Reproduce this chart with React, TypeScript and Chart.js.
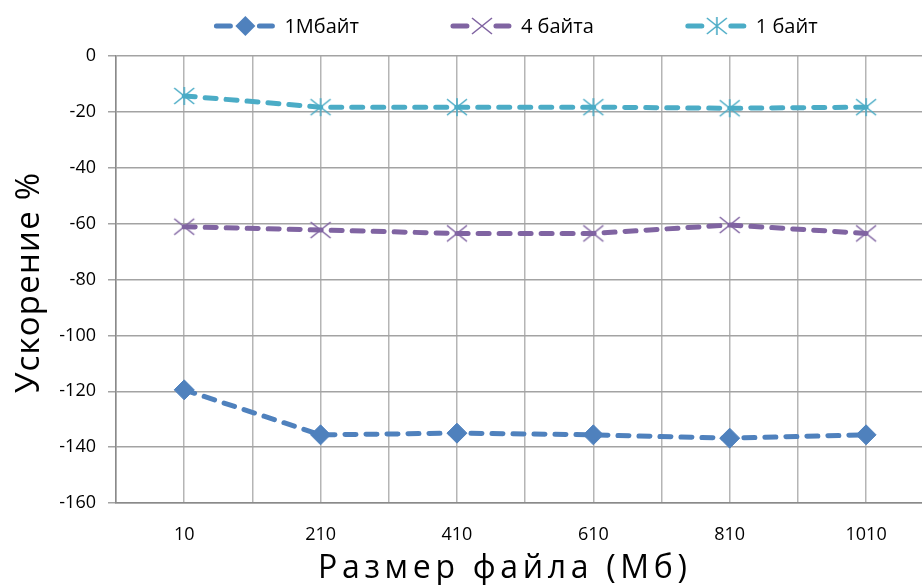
import React, { useEffect, useRef } from 'react';
import { Chart, registerables } from 'chart.js';

Chart.register(...registerables);

// ---- Data ----
const categories = [10, 210, 410, 610, 810, 1010];
const series1Mb = [-119.5, -135.6, -135.0, -135.6, -136.8, -135.6];
const series4b = [-61.1, -62.3, -63.5, -63.5, -60.5, -63.5];
const series1b = [-14.3, -18.3, -18.3, -18.3, -18.7, -18.3];
const seriesNames = ['1Мбайт', '4 байта', '1 байт'];
const yTickValues = [0, -20, -40, -60, -80, -100, -120, -140, -160];
const xGridValues = [-90, 10, 110, 210, 310, 410, 510, 610, 710, 810, 910, 1010];
const xAxisTitle = 'Размер файла (Мб)';
const yAxisTitle = 'Ускорение %';

// ---- Styles ----
const FONT = '"Open Sans", "DejaVu Sans", sans-serif';
const COLOR_1MB = '#4F81BD';
const COLOR_4B = '#8064A2';
const COLOR_1B = '#4BACC6';

function makeCrossMarker(color: string, star: boolean): HTMLCanvasElement {
  const c = document.createElement('canvas');
  c.width = 24;
  c.height = 20;
  const g = c.getContext('2d')!;
  g.strokeStyle = color;
  g.lineWidth = 1.6;
  g.lineCap = 'butt';
  g.beginPath();
  g.moveTo(2, 2);
  g.lineTo(22, 18);
  g.moveTo(2, 18);
  g.lineTo(22, 2);
  if (star) {
    g.moveTo(12, 1);
    g.lineTo(12, 19);
  }
  g.stroke();
  return c;
}

function drawMarker(ctx: CanvasRenderingContext2D, ds: any, x: number, y: number) {
  const ps = ds.pointStyle;
  if (ps && typeof ps === 'object') {
    ctx.drawImage(ps, x - ps.width / 2, y - ps.height / 2, ps.width, ps.height);
  } else {
    const r = ds.pointRadius;
    ctx.fillStyle = ds.pointBackgroundColor;
    ctx.beginPath();
    ctx.moveTo(x, y - r);
    ctx.lineTo(x + r, y);
    ctx.lineTo(x, y + r);
    ctx.lineTo(x - r, y);
    ctx.closePath();
    ctx.fill();
  }
}

function drawSpaced(ctx: any, text: string, x: number, y: number, targetW: number) {
  ctx.letterSpacing = '0px';
  const w0 = ctx.measureText(text).width;
  const ls = (targetW - w0) / (text.length - 1);
  ctx.letterSpacing = `${ls}px`;
  ctx.fillText(text, x, y);
  ctx.letterSpacing = '0px';
}

const decorPlugin = {
  id: 'decor',
  afterDraw(chart: any) {
    const { ctx, chartArea } = chart;
    ctx.save();
    // Legend
    ctx.font = `20px ${FONT}`;
    const items = chart.data.datasets.map((ds: any) => ({
      ds,
      text: ds.label as string,
      w: ctx.measureText(ds.label).width,
    }));
    const sym = 60;
    const gapText = 10;
    const gapItem = 92;
    const total =
      items.reduce((a: number, it: any) => a + sym + gapText + it.w, 0) + gapItem * (items.length - 1);
    let x = (chartArea.left + chartArea.right) / 2 - total / 2 - 3;
    const y = 26;
    items.forEach((it: any) => {
      ctx.strokeStyle = it.ds.borderColor;
      ctx.lineWidth = 5;
      ctx.lineCap = 'round';
      ctx.setLineDash([]);
      ctx.beginPath();
      ctx.moveTo(x + 2, y);
      ctx.lineTo(x + 16, y);
      ctx.moveTo(x + 45, y);
      ctx.lineTo(x + 58, y);
      ctx.stroke();
      drawMarker(ctx, it.ds, x + 31, y);
      ctx.fillStyle = '#000';
      ctx.textBaseline = 'middle';
      ctx.textAlign = 'left';
      ctx.fillText(it.text, x + sym + gapText, y + 1);
      x += sym + gapText + it.w + gapItem;
    });

    // Axis titles
    ctx.fillStyle = '#000';
    ctx.textAlign = 'left';
    ctx.textBaseline = 'alphabetic';
    ctx.font = `32px ${FONT}`;
    drawSpaced(ctx, xAxisTitle, 318, 578, 369);

    ctx.save();
    ctx.translate(39, 393);
    ctx.rotate(-Math.PI / 2);
    ctx.font = `33px ${FONT}`;
    drawSpaced(ctx, yAxisTitle, 0, 0, 220);
    ctx.restore();

    ctx.restore();
  },
};

function toPoints(values: number[]) {
  return categories.map((x, i) => ({ x, y: values[i] }));
}

export default function App() {
  const ref = useRef<HTMLCanvasElement | null>(null);

  useEffect(() => {
    if (!ref.current) return;
    const markerX = makeCrossMarker(COLOR_4B, false);
    const markerStar = makeCrossMarker(COLOR_1B, true);
    const lineCommon = {
      borderWidth: 5,
      borderDash: [11, 10],
      borderCapStyle: 'round' as const,
      tension: 0,
      pointRadius: 10,
      pointHoverRadius: 10,
      pointBorderWidth: 1,
    };
    const chart = new Chart(ref.current, {
      type: 'line',
      data: {
        datasets: [
          {
            ...lineCommon,
            label: seriesNames[0],
            data: toPoints(series1Mb),
            borderColor: COLOR_1MB,
            backgroundColor: COLOR_1MB,
            pointStyle: 'rectRot',
            pointBackgroundColor: COLOR_1MB,
            pointBorderColor: COLOR_1MB,
          },
          {
            ...lineCommon,
            label: seriesNames[1],
            data: toPoints(series4b),
            borderColor: COLOR_4B,
            backgroundColor: COLOR_4B,
            pointStyle: markerX,
            pointBackgroundColor: COLOR_4B,
            pointBorderColor: COLOR_4B,
          },
          {
            ...lineCommon,
            label: seriesNames[2],
            data: toPoints(series1b),
            borderColor: COLOR_1B,
            backgroundColor: COLOR_1B,
            pointStyle: markerStar,
            pointBackgroundColor: COLOR_1B,
            pointBorderColor: COLOR_1B,
          },
        ] as any,
      },
      options: {
        animation: false,
        responsive: false,
        maintainAspectRatio: false,
        devicePixelRatio: 1,
        layout: { autoPadding: false, padding: { top: 56, left: 0, right: 0, bottom: 0 } },
        plugins: {
          legend: { display: false },
          tooltip: { enabled: false },
          title: { display: false },
        },
        scales: {
          x: {
            type: 'linear',
            min: -90,
            max: 1092,
            afterBuildTicks: (s: any) => {
              s.ticks = xGridValues.map((v) => ({ value: v }));
            },
            afterFit: (s: any) => {
              s.height = 82;
              s.paddingLeft = 0;
              s.paddingRight = 0;
            },
            ticks: {
              autoSkip: false,
              maxRotation: 0,
              padding: 21,
              color: '#000',
              font: { family: FONT, size: 18 },
              callback: (v: any) => (categories.includes(Number(v)) ? String(v) : ''),
            },
            grid: { color: '#b5b5b5', lineWidth: 1.5, drawTicks: false },
            border: { color: '#8a8a8a', width: 1.5 },
          },
          y: {
            type: 'linear',
            min: -160,
            max: 0,
            afterBuildTicks: (s: any) => {
              s.ticks = yTickValues.map((v) => ({ value: v }));
            },
            afterFit: (s: any) => {
              s.width = 116;
              s.paddingTop = 0;
              s.paddingBottom = 0;
            },
            ticks: {
              padding: 12,
              color: '#000',
              font: { family: FONT, size: 18 },
            },
            grid: { color: '#a3a3a3', lineWidth: 1.5, tickLength: 8 },
            border: { color: '#8a8a8a', width: 1.5 },
          },
        },
      } as any,
      plugins: [decorPlugin],
    });
    return () => chart.destroy();
  }, []);

  return (
    <div style={{ position: 'fixed', left: 0, top: 0, width: 922, height: 585, background: '#fff' }}>
      <canvas ref={ref} width={922} height={585} style={{ display: 'block' }} />
    </div>
  );
}
